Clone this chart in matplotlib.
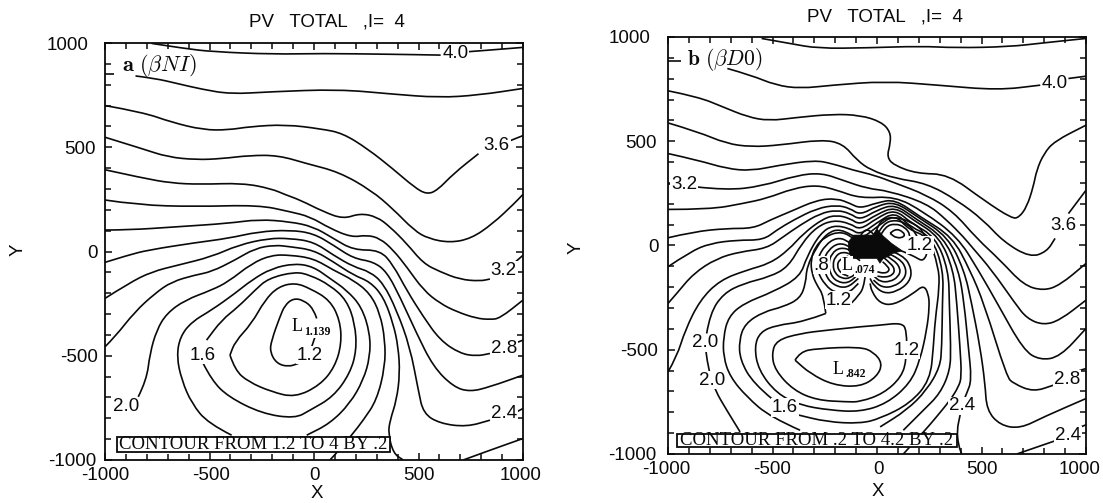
import matplotlib
matplotlib.use("Agg")
import matplotlib.pyplot as plt
from matplotlib.path import Path
from matplotlib.patches import PathPatch, Rectangle, Polygon
from matplotlib.transforms import Affine2D

W, H = 1103, 503
SANS = "Liberation Sans"
SERIF = "Liberation Serif"
INK = "#0a0a0a"

# panel a: contours, (x, y) in data units
a_40 = [(-777,998),(-622,974),(-485,958),(-193,946),(31,950),(374,946),(606,942)]
a_40b = [(735,958),(890,970),(1000,979)]
a_38t = [(-1000,850),(-958,850)]
a_38 = [(-854,842),(-759,830),(-656,806),(-536,778),(-399,755),(-210,766),(117,778),(374,755),(598,738),(787,750),(1000,782)]
a_36 = [(-1000,700),(-819,668),(-682,620),(-529,583),(-409,583),(-307,599),(-136,609),(35,588),(138,567),(257,492),(377,397),(479,309),(539,274),(590,293),(667,373),(787,469)]
a_36b = [(940,532),(1000,556)]
a_34 = [(-1000,548),(-819,492),(-699,453),(-563,440),(-443,445),(-307,461),(-170,461),(-33,421),(120,381),(274,293),(377,205),(479,101),(547,62),(650,42),(752,62),(855,133),(957,229),(1000,274)]
a_32 = [(-1000,392),(-819,352),(-682,328),(-546,322),(-341,328),(-204,301),(-136,272),(-67,247),(45,191),(140,156),(220,183),(300,167),(363,119),(443,39),(523,-57),(603,-97),(698,-134),(794,-142),(842,-132)]
a_32b = [(950,-62),(1000,-18)]
a_30 = [(-1000,247),(-841,223),(-570,215),(-266,223),(-115,191),(-19,167),(76,111),(180,68),(252,79),(316,63),(379,7),(443,-73),(523,-185),(603,-249),(683,-289),(778,-321),(842,-326),(889,-321),(1000,-233)]
a_28 = [(-1000,103),(-888,103),(-649,119),(-410,135),(-266,154),(-115,143),(-3,119),(92,63),(188,7),(316,7),(379,-65),(443,-185),(523,-313),(603,-425),(698,-489),(778,-502),(842,-489)]
a_28b = [(959,-441),(1000,-425)]
a_26 = [(-1000,-52),(-888,-17),(-793,7),(-570,42),(-410,63),(-266,95),(-115,103),(-3,87),(92,31),(188,-33),(284,-49),(348,-97),(411,-217),(491,-393),(571,-553),(667,-649),(746,-673),(842,-649),(1000,-593)]
a_24 = [(-1000,-225),(-888,-153),(-777,-97),(-649,-65),(-490,-25),(-362,31),(-219,63),(-115,63),(-3,47),(92,-17),(188,-73),(268,-97),(332,-153),(395,-281),(459,-457),(499,-665),(523,-777),(603,-825),(730,-841),(842,-809)]
a_24b = [(968,-770),(1000,-753)]
a_22 = [(-1000,-457),(-952,-409),(-857,-289),(-761,-201),(-681,-145),(-570,-113),(-490,-97),(-378,-41),(-282,15),(-187,31),(-115,23),(-3,7),(92,-49),(188,-113),(268,-145),(332,-217),(379,-345),(403,-457),(411,-585),(395,-713),(364,-809),(355,-873),(380,-969),(427,-1000)]
a_22b = [(714,-1000),(842,-953),(1000,-897)]
a_20 = [(-841,-697),(-801,-617),(-785,-489),(-753,-377),(-705,-297),(-617,-233),(-490,-185),(-410,-145),(-298,-57),(-203,-17),(-115,-17),(-3,-33),(92,-89),(188,-137),(268,-201),(316,-297),(340,-425),(340,-553),(300,-713),(236,-809),(180,-881),(100,-975),(76,-1000)]
a_18 = [(-394,-881),(-506,-825),(-585,-729),(-633,-617),(-657,-505),(-641,-409),(-585,-337),(-490,-281),(-378,-201),(-298,-137),(-203,-81),(-91,-57),(-3,-73),(76,-129),(156,-185),(228,-265),(268,-393),(268,-505),(236,-617),(172,-729),(76,-825),(-35,-881)]
a_16 = [(-530,-537),(-490,-617),(-410,-697),(-250,-777),(-91,-801),(-19,-761),(92,-697),(172,-585),(204,-473),(196,-345),(156,-233),(76,-161),(-19,-113),(-91,-97),(-219,-129),(-282,-185),(-362,-265),(-442,-329),(-514,-425)]
a_14 = [(-402,-497),(-378,-569),(-314,-625),(-203,-673),(-91,-700),(29,-641),(100,-553),(132,-441),(124,-329),(76,-233),(-19,-177),(-91,-150),(-171,-169),(-235,-233),(-298,-345),(-378,-433),(-402,-497)]
a_12 = [(13,-321),(-3,-273),(-51,-233),(-99,-225),(-139,-257),(-163,-313),(-203,-425),(-211,-481),(-179,-537),(-123,-553),(-75,-537)]
a_12b = [(-11,-457),(5,-409)]
a_lines = [a_40,a_40b,a_38t,a_38,a_36,a_36b,a_34,a_32,a_32b,a_30,a_28,a_28b,a_26,a_24,a_24b,a_22,a_22b,a_20,a_18,a_16,a_14,a_12,a_12b]

# panel b
b_42 = [(-552,993),(-417,969),(-282,945),(-46,948),(207,956),(376,948),(629,953),(798,972),(1000,993)]
b_40t = [(-1000,885),(-940,885)]
b_40 = [(-716,849),(-603,817),(-485,769),(-367,753),(-215,769),(39,788),(292,769),(579,745),(781,769)]
b_40b = [(916,801),(1000,812)]
b_38 = [(-1000,742),(-856,713),(-738,665),(-620,617),(-518,598),(-383,614),(-215,630),(-80,625),(21,593),(64,545),(64,489),(47,425),(81,385),(190,345),(342,342),(511,217),(646,129),(680,135),(717,186),(748,282),(764,362),(798,440),(849,500),(1000,577)]
b_36 = [(-1000,588),(-856,545),(-721,489),(-603,473),(-468,481),(-265,508),(-164,489),(-96,409),(-29,361),(86,322),(238,298),(382,218),(509,122),(605,18),(732,-57),(812,-30),(852,34)]
b_36b = [(916,153),(1000,265)]
b_34 = [(-1000,441),(-856,409),(-721,369),(-603,358),(-468,385),(-299,409),(-215,393),(-113,361),(-12,337),(86,300),(238,242),(366,162),(477,34),(589,-70),(701,-190),(796,-217),(876,-190),(1000,-86)]
b_32t = [(-1000,297),(-986,297)]
b_32 = [(-864,281),(-721,265),(-552,284),(-383,337),(-265,348),(-164,313),(-46,273),(55,262),(238,202),(334,122),(413,42),(453,-6),(549,-118),(661,-278),(717,-350),(796,-382),(876,-358),(1000,-262)]
b_30 = [(-1000,173),(-799,173),(-639,202),(-528,226),(-400,274),(-288,290),(-193,266),(-81,226),(86,236),(222,162),(385,42),(485,-118),(576,-278),(701,-502),(780,-550),(876,-534),(1000,-398)]
b_28 = [(-1000,37),(-878,66),(-719,82),(-591,82),(-512,122),(-416,162),(-288,218),(-193,226),(-129,202),(-81,178),(0,205),(86,222),(206,138),(361,42),(445,-118),(512,-278),(621,-630),(653,-662),(748,-702),(844,-670)]
b_28b = [(968,-600),(1000,-590)]
b_26 = [(-1000,-102),(-894,-30),(-799,10),(-671,26),(-544,26),(-480,74),(-400,122),(-288,178),(-193,194),(-129,178),(-81,146),(0,190),(86,210),(193,138),(339,42),(417,-118),(453,-278),(493,-486),(517,-662),(525,-790),(589,-862),(685,-878),(798,-822),(1000,-734)]
b_24 = [(-1000,-278),(-958,-230),(-878,-134),(-767,-62),(-655,-30),(-528,-14),(-448,42),(-368,98),(-272,154),(-193,170),(-129,154),(-81,122),(0,170),(86,198),(182,130),(318,42),(391,-118),(417,-278),(437,-486),(453,-646),(429,-710),(405,-766),(398,-814),(382,-886),(390,-958),(405,-1000)]
b_24b = [(669,-1000),(860,-934)]
b_24c = [(975,-870),(1000,-860)]
b_22 = [(-1000,-606),(-958,-534),(-918,-406),(-847,-262),(-751,-166),(-623,-118),(-512,-86),(-424,-22),(-352,58),(-256,130),(-193,146),(-129,130),(-81,98),(0,150),(86,186),(174,122),(299,42),(366,-118),(382,-278),(397,-486),(405,-630),(390,-678),(350,-742),(278,-830),(230,-886),(126,-1000)]
b_20 = [(-815,-422),(-799,-326),(-735,-230),(-639,-182),(-512,-150),(-424,-102),(-360,10),(-288,90),(-209,122),(-129,106),(-81,74),(0,132),(86,174),(166,106),(279,42),(342,-118),(346,-278),(353,-486),(350,-598),(302,-710),(222,-790),(126,-886)]
b_20b = [(-818,-510),(-807,-598),(-775,-694),(-719,-790),(-655,-894)]
b_18 = [(-368,-886),(-512,-822),(-623,-726),(-703,-630),(-735,-534),(-735,-438),(-711,-342),(-639,-278),(-496,-222),(-368,-150),(-336,-54),(-272,58),(-209,98),(-129,82),(-81,50),(0,110),(86,162),(158,90),(262,42),(318,-118),(313,-278),(310,-486),(302,-582),(238,-694),(142,-790),(15,-870)]
b_16 = [(-504,-734),(-591,-662),(-655,-550),(-660,-454),(-631,-374),(-543,-318),(-448,-294),(-368,-254),(-341,-182),(-336,-102),(-288,-6),(-240,58),(-177,82),(-81,26),(0,90),(86,150),(150,77),(246,42),(294,-102),(299,-198),(278,-358),(270,-486),(254,-646),(158,-758),(15,-830),(-81,-854),(-240,-846),(-384,-811)]
b_14 = [(-245,-326),(-352,-366),(-480,-382),(-559,-414),(-587,-486),(-567,-598),(-480,-710),(-368,-766),(-225,-790),(-81,-798),(47,-758),(158,-662),(206,-550),(238,-406),(251,-294),(246,-230),(222,-190),(174,-230),(79,-286),(15,-278),(-25,-222),(-33,-182)]
b_12 = [(-81,-390),(-240,-406),(-368,-422),(-480,-454),(-504,-518),(-488,-598),(-400,-694),(-288,-742),(-145,-750),(-81,-750),(31,-710),(118,-630),(142,-542),(142,-406),(118,-371),(15,-382),(-81,-390)]
b_10 = [(-392,-550),(-368,-510),(-288,-494),(-81,-486),(-17,-510),(27,-566),(-1,-630),(-81,-678),(-209,-670),(-320,-614),(-392,-550)]
ring_a = [(-245,-326),(-256,-238),(-288,-190),(-312,-134),(-317,-70),(-296,-6),(-248,42),(-185,66),(-129,50),(-81,2)]
ring_b = [(-81,-30),(-137,23),(-193,39),(-248,2),(-285,-62),(-285,-126),(-248,-190),(-201,-227),(-137,-230),(-89,-182)]
ring_c = [(-81,-46),(-129,-3),(-185,13),(-233,-22),(-256,-70),(-248,-142),(-209,-190),(-145,-206),(-89,-158)]
ring_d = [(-81,-62),(-121,-22),(-177,-9),(-217,-38),(-232,-86),(-225,-134),(-193,-174),(-137,-182),(-89,-137)]
ring_e = [(-81,-73),(-121,-41),(-169,-30),(-201,-54),(-212,-94),(-201,-134),(-169,-158),(-129,-158),(-89,-123)]
ring_f = [(-137,-51),(-177,-62),(-193,-99),(-172,-134),(-137,-147)]
link_12 = [(-121,-275),(-81,-233),(-65,-198),(-57,-150)]
lobe_a = [(55,-22),(126,-46),(166,-110),(158,-174),(94,-222),(31,-230),(-17,-190),(-33,-158)]
lobe_b = [(47,-35),(110,-62),(142,-115),(130,-163),(79,-198),(23,-201),(-17,-166)]
lobe_c = [(39,-46),(86,-73),(114,-115),(102,-150),(63,-174),(15,-174),(-14,-147)]
lobe_d = [(31,-57),(66,-86),(86,-115),(75,-142),(39,-153),(2,-147)]
lobe_e = [(27,-78),(55,-102),(59,-123),(34,-134),(2,-126)]
hi_v = [(79,-14),(110,-22),(182,-54),(222,-78),(246,-22),(222,74),(158,115),(86,138),(23,125),(-1,78)]
hi_b = [(10,66),(31,105),(86,124),(148,102),(185,60),(200,20)]
hi_a = [(18,50),(39,90),(86,106),(135,88),(160,50),(150,20)]
hi_0 = [(63,58),(86,82),(126,66),(134,42),(94,34),(63,58)]
arc_top = [(-81,42),(-65,74),(-33,74),(-9,42)]
b_lines = [b_42,b_40t,b_40,b_40b,b_38,b_36,b_36b,b_34,b_32t,b_32,b_30,b_28,b_28b,b_26,b_24,b_24b,b_24c,
           b_22,b_20,b_20b,b_18,b_16,b_14,b_12,b_10,ring_a,ring_b,ring_c,ring_d,ring_e,ring_f,link_12,
           lobe_a,lobe_b,lobe_c,lobe_d,lobe_e,hi_v,hi_b,hi_a,hi_0,arc_top]
b_blob = [(-137,18),(-110,50),(-20,50),(-1,80),(30,45),(70,10),(120,-25),(70,-40),(60,-50),(30,-62),(14,-85),(0,-62),(-120,-62),(-137,-20)]

a_labels = [("4.0",677,950),("3.6",875,510),("3.2",908,-90),("2.8",911,-465),("2.4",911,-776),
            ("1.6",-534,-497),("2.0",-901,-745),("1.2",-22,-497)]
b_labels = [("4.0",849,777),("3.2",-923,293),("3.6",891,97),("1.2",206,2),(".8",-265,-94),("1.2",-185,-262),
            ("2.0",-823,-467),("2.0",-791,-646),("1.2",142,-502),("1.6",-440,-777),("2.4",405,-769),
            ("2.8",908,-643),("2.4",913,-910)]

tick_vals = [-1000, -500, 0, 500, 1000]
tick_text = ["-1000", "-500", "0", "500", "1000"]
minor_vals = [v for v in range(-900, 1000, 100)]


def smooth(points):
    # quadratic segments through the midpoints, so the traced lines do not look angular
    verts = [points[0]]
    codes = [Path.MOVETO]
    for p, q in zip(points[1:-1], points[2:]):
        verts += [p, ((p[0] + q[0]) / 2, (p[1] + q[1]) / 2)]
        codes += [Path.CURVE3, Path.CURVE3]
    verts.append(points[-1])
    codes.append(Path.LINETO)
    return Path(verts, codes)


def nudge(label, dx):
    label.set_transform(label.get_transform() + Affine2D().translate(dx, 0))


def panel(fig, left, right, top, bottom, lines, labels, y_shift, x_shift):
    ax = fig.add_axes([left / W, 1 - bottom / H, (right - left) / W, (bottom - top) / H])
    ax.set_xlim(-1000, 1000)
    ax.set_ylim(-1000, 1000)
    for pts in lines:
        ax.add_patch(PathPatch(smooth(pts), fc="none", ec=INK, lw=1.2, zorder=2))
    ax.set_xticks(tick_vals, tick_text, fontfamily=SANS, fontsize=13.5)
    ax.set_yticks(tick_vals, tick_text, fontfamily=SANS, fontsize=13.5)
    ax.set_xticks(minor_vals, minor=True)
    ax.set_yticks(minor_vals, minor=True)
    ax.tick_params(which="major", direction="in", top=True, right=True, length=5, width=1.1, color=INK, labelcolor=INK)
    ax.tick_params(which="minor", direction="in", top=True, right=True, length=4, width=1.1, color=INK)
    ax.tick_params(axis="x", which="major", pad=5)
    ax.tick_params(axis="y", which="major", pad=7)
    # the scan is slightly skewed, so a few tick labels sit off the common line
    for lab, dx in zip(ax.get_yticklabels(), y_shift):
        nudge(lab, dx)
    for lab, dx in zip(ax.get_xticklabels(), x_shift):
        nudge(lab, dx)
    for s in ax.spines.values():
        s.set_linewidth(1.3)
        s.set_color(INK)
    for txt, x, y in labels:
        ax.text(x, y, txt, family=SANS, fontsize=13.5, color=INK, ha="center", va="center", zorder=4,
                bbox=dict(fc="white", ec="none", pad=0.5))
    return ax


def box(ax, x0, x1, y0, y1, txt, size):
    ax.add_patch(Rectangle((x0, y0), x1 - x0, y1 - y0, fc="white", ec=INK, lw=1.3, zorder=5))
    ax.text((x0 + x1) / 2, (y0 + y1) / 2, txt, family=SERIF, fontsize=size, color=INK,
            ha="center", va="center", zorder=6)


def low(ax, x, y, sx, sy, sub):
    ax.text(x, y, "L", family=SERIF, fontsize=13, color=INK, ha="center", va="center", zorder=4,
            bbox=dict(fc="white", ec="none", pad=0.3))
    ax.text(sx, sy, sub, family=SERIF, weight="bold", fontsize=8.5, color=INK, ha="center", va="center", zorder=4,
            bbox=dict(fc="white", ec="none", pad=0.3))


plt.rcParams["mathtext.fontset"] = "cm"
fig = plt.figure(figsize=(W / 100, H / 100), dpi=100)

ax_a = panel(fig, 105, 523, 43, 460, a_lines, a_labels, [1, 3, 2, 0, -7], [0, 2, 0, 0, -2])
box(ax_a, -944, 364, -961, -892, "CONTOUR FROM 1.2 TO 4 BY .2", 13.5)
low(ax_a, -83, -361, 16, -385, "1.139")
ax_a.text(-921, 892, r"$\mathbf{a}\ (\beta NI)$", fontsize=16, color=INK, va="center", zorder=4)

ax_b = panel(fig, 668, 1086, 37, 454, b_lines, b_labels, [-2, 0, 0, -2, -8], [-2, 0, 2, 0, -6])
ax_b.add_patch(Polygon(b_blob, fc=INK, ec=INK, lw=0.5, zorder=3))
box(ax_b, -958, 382, -966, -902, "CONTOUR FROM .2 TO 4.2 BY .2", 13.5)
low(ax_b, -145, -94, -57, -118, ".074")
low(ax_b, -185, -595, -100, -617, ".842")
ax_b.text(-907, 892, r"$\mathbf{b}\ (\beta D0)$", fontsize=15.5, color=INK, va="center", zorder=4)

# titles and axis names sit a little off the panel centres in the scan
for txt, px, py, rot in [("PV   TOTAL   ,I=  4", 327, 22, 0), ("PV   TOTAL   ,I=  4", 885, 17, 0),
                         ("X", 317, 494, 0), ("X", 878, 491, 0), ("Y", 18, 250, 90), ("Y", 576, 248, 90)]:
    fig.text(px / W, 1 - py / H, txt, family=SANS, fontsize=13.5, color=INK, ha="center", va="center", rotation=rot)

fig.savefig("out.png", dpi=100)
